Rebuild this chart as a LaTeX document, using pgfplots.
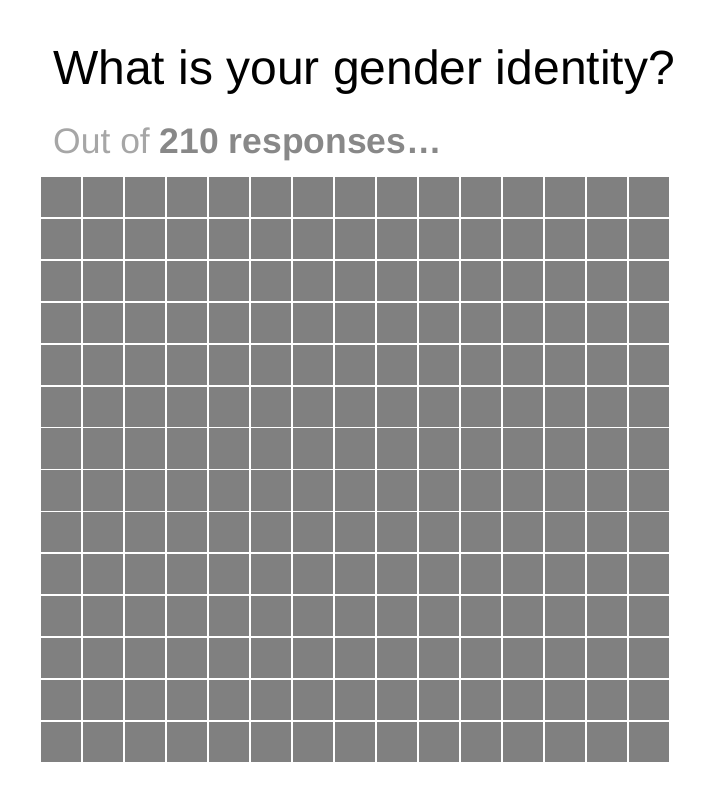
\documentclass[border=0pt]{standalone}
\usepackage{pgfplots}
\pgfplotsset{compat=1.18}
\usepackage{fontspec}
\setmainfont{Liberation Sans}
\definecolor{sq}{HTML}{808080}
\definecolor{lightt}{HTML}{A6A6A6}
\definecolor{darkt}{HTML}{888888}
\begin{document}
\begin{tikzpicture}[x=1pt,y=1pt]
\path[use as bounding box] (0,0) rectangle (718,793);
\node[anchor=base west, inner sep=0pt, font=\fontsize{48}{56}\selectfont] at (53,708) {What is your gender identity?};
\node[anchor=base west, inner sep=0pt, font=\fontsize{35.5}{42}\selectfont] at (53,639) {\textcolor{lightt}{Out of }\textcolor{darkt}{\bfseries 210 responses…}};
\begin{axis}[
  at={(40pt,30pt)}, anchor=origin,
  scale only axis, width=630pt, height=587pt,
  xmin=0, xmax=15, ymin=0, ymax=14,
  axis lines=none, clip=false,
]
\addplot[only marks, mark=square*, mark size=19.6pt, mark options={fill=sq, draw=sq, line width=0pt}] coordinates {
(0.5,0.5)(1.5,0.5)(2.5,0.5)(3.5,0.5)(4.5,0.5)(5.5,0.5)(6.5,0.5)(7.5,0.5)(8.5,0.5)(9.5,0.5)(10.5,0.5)(11.5,0.5)(12.5,0.5)(13.5,0.5)(14.5,0.5)
(0.5,1.5)(1.5,1.5)(2.5,1.5)(3.5,1.5)(4.5,1.5)(5.5,1.5)(6.5,1.5)(7.5,1.5)(8.5,1.5)(9.5,1.5)(10.5,1.5)(11.5,1.5)(12.5,1.5)(13.5,1.5)(14.5,1.5)
(0.5,2.5)(1.5,2.5)(2.5,2.5)(3.5,2.5)(4.5,2.5)(5.5,2.5)(6.5,2.5)(7.5,2.5)(8.5,2.5)(9.5,2.5)(10.5,2.5)(11.5,2.5)(12.5,2.5)(13.5,2.5)(14.5,2.5)
(0.5,3.5)(1.5,3.5)(2.5,3.5)(3.5,3.5)(4.5,3.5)(5.5,3.5)(6.5,3.5)(7.5,3.5)(8.5,3.5)(9.5,3.5)(10.5,3.5)(11.5,3.5)(12.5,3.5)(13.5,3.5)(14.5,3.5)
(0.5,4.5)(1.5,4.5)(2.5,4.5)(3.5,4.5)(4.5,4.5)(5.5,4.5)(6.5,4.5)(7.5,4.5)(8.5,4.5)(9.5,4.5)(10.5,4.5)(11.5,4.5)(12.5,4.5)(13.5,4.5)(14.5,4.5)
(0.5,5.5)(1.5,5.5)(2.5,5.5)(3.5,5.5)(4.5,5.5)(5.5,5.5)(6.5,5.5)(7.5,5.5)(8.5,5.5)(9.5,5.5)(10.5,5.5)(11.5,5.5)(12.5,5.5)(13.5,5.5)(14.5,5.5)
(0.5,6.5)(1.5,6.5)(2.5,6.5)(3.5,6.5)(4.5,6.5)(5.5,6.5)(6.5,6.5)(7.5,6.5)(8.5,6.5)(9.5,6.5)(10.5,6.5)(11.5,6.5)(12.5,6.5)(13.5,6.5)(14.5,6.5)
(0.5,7.5)(1.5,7.5)(2.5,7.5)(3.5,7.5)(4.5,7.5)(5.5,7.5)(6.5,7.5)(7.5,7.5)(8.5,7.5)(9.5,7.5)(10.5,7.5)(11.5,7.5)(12.5,7.5)(13.5,7.5)(14.5,7.5)
(0.5,8.5)(1.5,8.5)(2.5,8.5)(3.5,8.5)(4.5,8.5)(5.5,8.5)(6.5,8.5)(7.5,8.5)(8.5,8.5)(9.5,8.5)(10.5,8.5)(11.5,8.5)(12.5,8.5)(13.5,8.5)(14.5,8.5)
(0.5,9.5)(1.5,9.5)(2.5,9.5)(3.5,9.5)(4.5,9.5)(5.5,9.5)(6.5,9.5)(7.5,9.5)(8.5,9.5)(9.5,9.5)(10.5,9.5)(11.5,9.5)(12.5,9.5)(13.5,9.5)(14.5,9.5)
(0.5,10.5)(1.5,10.5)(2.5,10.5)(3.5,10.5)(4.5,10.5)(5.5,10.5)(6.5,10.5)(7.5,10.5)(8.5,10.5)(9.5,10.5)(10.5,10.5)(11.5,10.5)(12.5,10.5)(13.5,10.5)(14.5,10.5)
(0.5,11.5)(1.5,11.5)(2.5,11.5)(3.5,11.5)(4.5,11.5)(5.5,11.5)(6.5,11.5)(7.5,11.5)(8.5,11.5)(9.5,11.5)(10.5,11.5)(11.5,11.5)(12.5,11.5)(13.5,11.5)(14.5,11.5)
(0.5,12.5)(1.5,12.5)(2.5,12.5)(3.5,12.5)(4.5,12.5)(5.5,12.5)(6.5,12.5)(7.5,12.5)(8.5,12.5)(9.5,12.5)(10.5,12.5)(11.5,12.5)(12.5,12.5)(13.5,12.5)(14.5,12.5)
(0.5,13.5)(1.5,13.5)(2.5,13.5)(3.5,13.5)(4.5,13.5)(5.5,13.5)(6.5,13.5)(7.5,13.5)(8.5,13.5)(9.5,13.5)(10.5,13.5)(11.5,13.5)(12.5,13.5)(13.5,13.5)(14.5,13.5)
};
\end{axis}
\end{tikzpicture}
\end{document}
